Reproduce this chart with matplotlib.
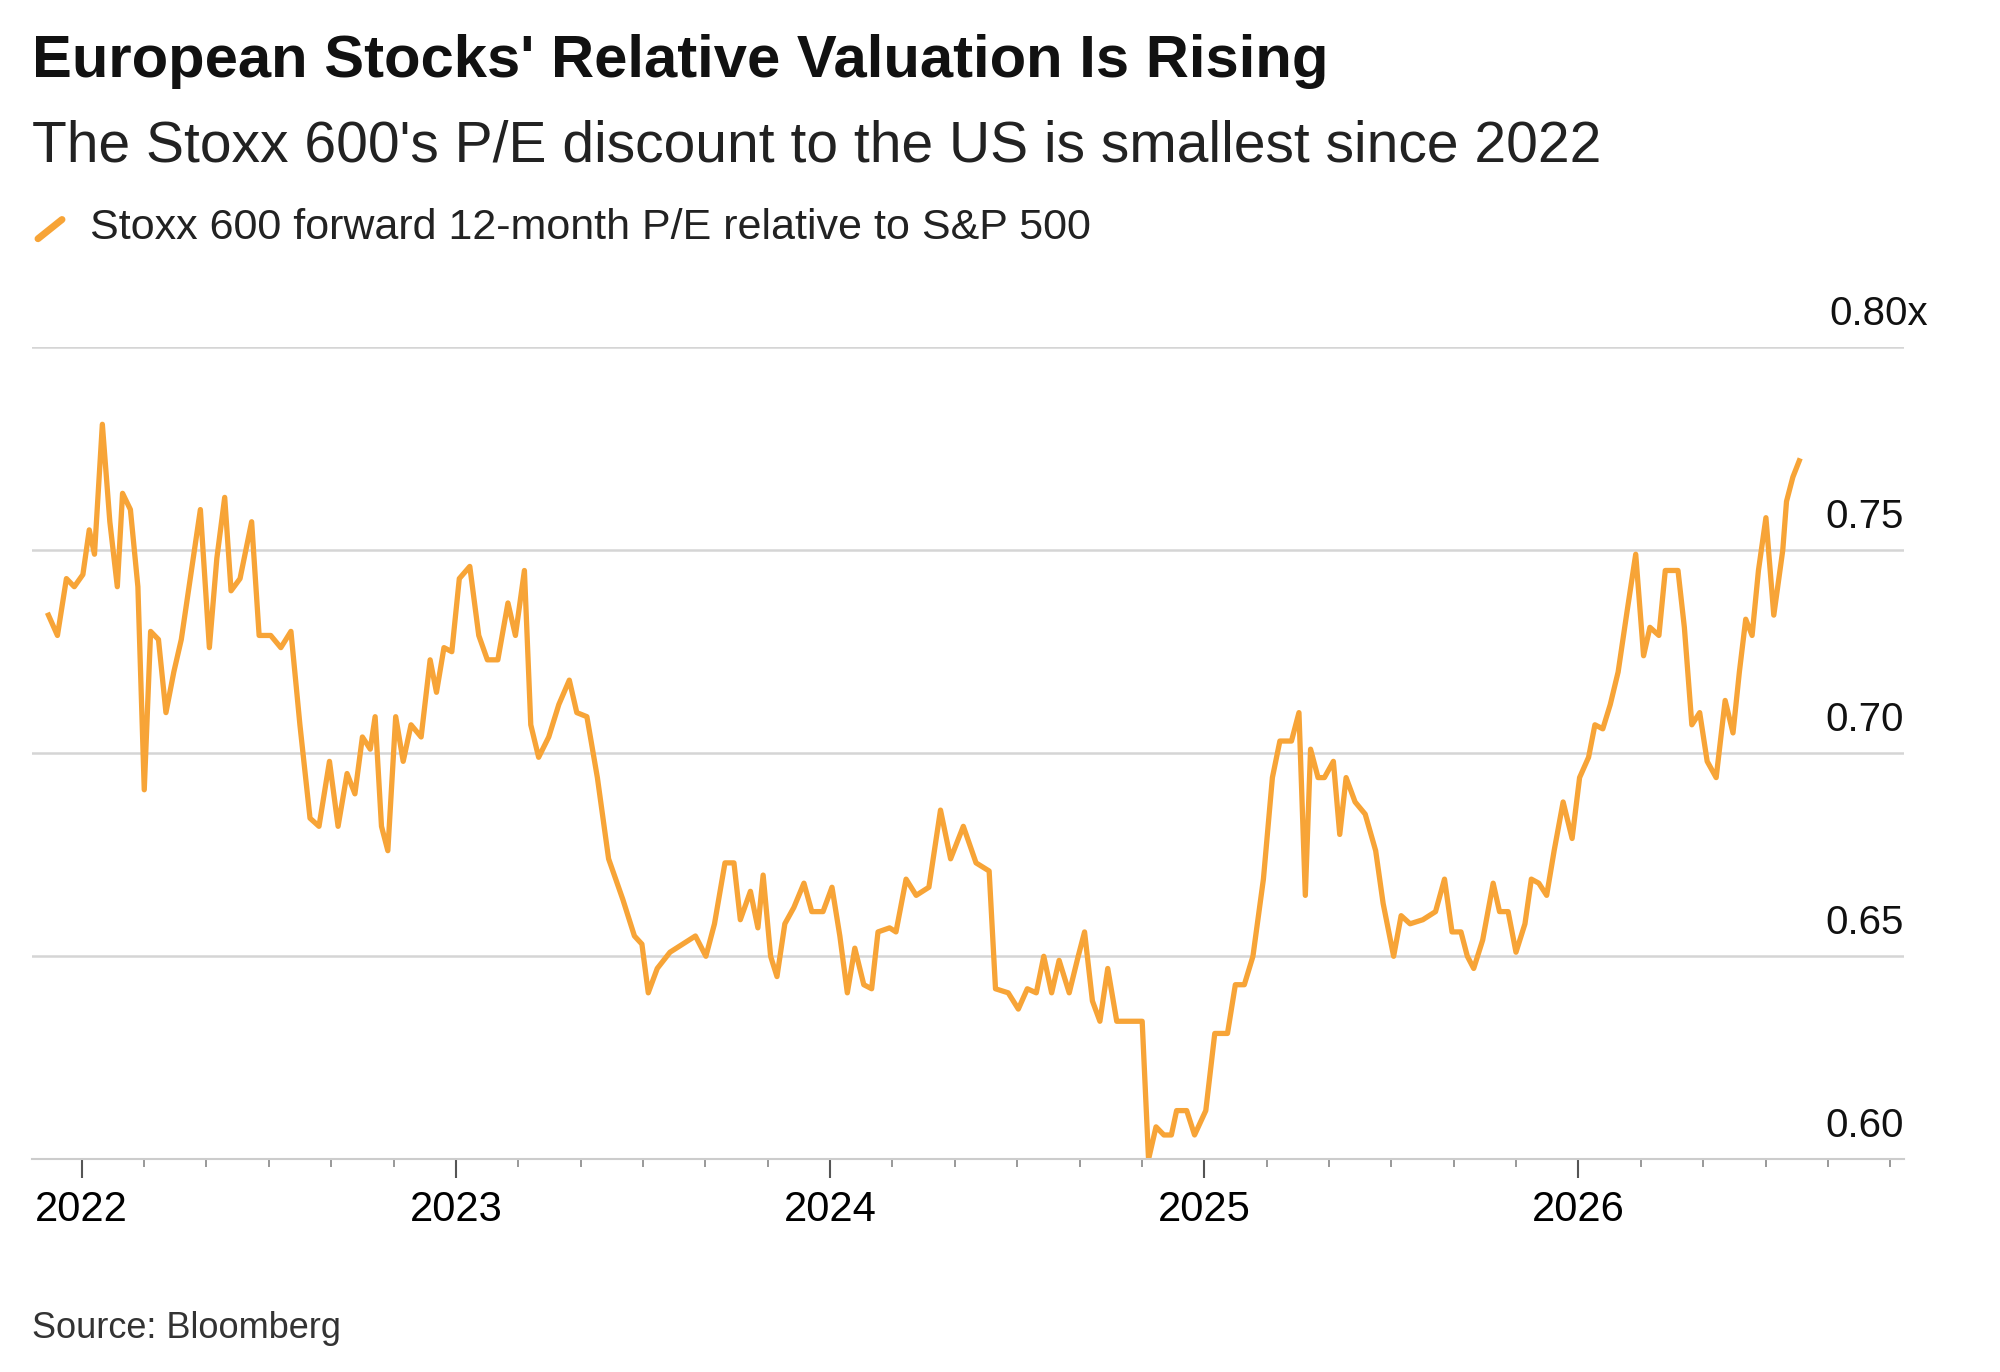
import matplotlib.pyplot as plt
from matplotlib.ticker import FixedLocator

plt.rcParams['font.family'] = ['Liberation Sans', 'DejaVu Sans']

years = [2021.911, 2021.935, 2021.959, 2021.980, 2022.003, 2022.020, 2022.034, 2022.055, 2022.075, 2022.095,
         2022.109, 2022.130, 2022.150, 2022.167, 2022.184, 2022.205, 2022.225, 2022.246, 2022.266, 2022.293,
         2022.317, 2022.341, 2022.361, 2022.382, 2022.399, 2022.423, 2022.454, 2022.474, 2022.505, 2022.532,
         2022.559, 2022.583, 2022.610, 2022.634, 2022.662, 2022.685, 2022.709, 2022.730, 2022.750, 2022.771,
         2022.784, 2022.801, 2022.818, 2022.839, 2022.859, 2022.880, 2022.907, 2022.931, 2022.948, 2022.968,
         2022.989, 2023.009, 2023.037, 2023.061, 2023.084, 2023.112, 2023.139, 2023.159, 2023.183, 2023.200,
         2023.221, 2023.248, 2023.275, 2023.303, 2023.323, 2023.350, 2023.378, 2023.408, 2023.446, 2023.477,
         2023.497, 2023.514, 2023.538, 2023.572, 2023.606, 2023.640, 2023.668, 2023.691, 2023.719, 2023.743,
         2023.760, 2023.787, 2023.807, 2023.821, 2023.841, 2023.858, 2023.879, 2023.903, 2023.930, 2023.951,
         2023.981, 2024.005, 2024.026, 2024.046, 2024.066, 2024.090, 2024.111, 2024.128, 2024.159, 2024.176,
         2024.203, 2024.230, 2024.264, 2024.295, 2024.322, 2024.356, 2024.390, 2024.425, 2024.442, 2024.476,
         2024.503, 2024.527, 2024.551, 2024.571, 2024.592, 2024.612, 2024.639, 2024.663, 2024.680, 2024.701,
         2024.721, 2024.742, 2024.766, 2024.800, 2024.834, 2024.851, 2024.871, 2024.892, 2024.912, 2024.926,
         2024.953, 2024.974, 2025.004, 2025.028, 2025.062, 2025.083, 2025.107, 2025.130, 2025.158, 2025.182,
         2025.202, 2025.233, 2025.253, 2025.270, 2025.284, 2025.304, 2025.321, 2025.345, 2025.362, 2025.379,
         2025.403, 2025.430, 2025.458, 2025.478, 2025.506, 2025.526, 2025.550, 2025.584, 2025.618, 2025.642,
         2025.662, 2025.686, 2025.703, 2025.720, 2025.744, 2025.772, 2025.789, 2025.812, 2025.833, 2025.857,
         2025.874, 2025.894, 2025.915, 2025.935, 2025.959, 2025.983, 2026.003, 2026.027, 2026.044, 2026.065,
         2026.085, 2026.106, 2026.130, 2026.153, 2026.174, 2026.191, 2026.215, 2026.232, 2026.266, 2026.283,
         2026.303, 2026.324, 2026.344, 2026.368, 2026.392, 2026.413, 2026.430, 2026.447, 2026.464, 2026.481,
         2026.501, 2026.522, 2026.546, 2026.556, 2026.573, 2026.590]

pe_ratio = [0.734, 0.729, 0.743, 0.741, 0.744, 0.755, 0.749, 0.781, 0.757, 0.741,
            0.764, 0.760, 0.741, 0.691, 0.730, 0.728, 0.710, 0.720, 0.728, 0.745,
            0.760, 0.726, 0.748, 0.763, 0.740, 0.743, 0.757, 0.729, 0.729, 0.726,
            0.730, 0.707, 0.684, 0.682, 0.698, 0.682, 0.695, 0.690, 0.704, 0.701,
            0.709, 0.682, 0.676, 0.709, 0.698, 0.707, 0.704, 0.723, 0.715, 0.726,
            0.725, 0.743, 0.746, 0.729, 0.723, 0.723, 0.737, 0.729, 0.745, 0.707,
            0.699, 0.704, 0.712, 0.718, 0.710, 0.709, 0.694, 0.674, 0.664, 0.655,
            0.653, 0.641, 0.647, 0.651, 0.653, 0.655, 0.650, 0.658, 0.673, 0.673,
            0.659, 0.666, 0.657, 0.670, 0.650, 0.645, 0.658, 0.662, 0.668, 0.661,
            0.661, 0.667, 0.655, 0.641, 0.652, 0.643, 0.642, 0.656, 0.657, 0.656,
            0.669, 0.665, 0.667, 0.686, 0.674, 0.682, 0.673, 0.671, 0.642, 0.641,
            0.637, 0.642, 0.641, 0.650, 0.641, 0.649, 0.641, 0.650, 0.656, 0.639,
            0.634, 0.647, 0.634, 0.634, 0.634, 0.600, 0.608, 0.606, 0.606, 0.612,
            0.612, 0.606, 0.612, 0.631, 0.631, 0.643, 0.643, 0.650, 0.669, 0.694,
            0.703, 0.703, 0.710, 0.665, 0.701, 0.694, 0.694, 0.698, 0.680, 0.694,
            0.688, 0.685, 0.676, 0.663, 0.650, 0.660, 0.658, 0.659, 0.661, 0.669,
            0.656, 0.656, 0.650, 0.647, 0.654, 0.668, 0.661, 0.661, 0.651, 0.658,
            0.669, 0.668, 0.665, 0.676, 0.688, 0.679, 0.694, 0.699, 0.707, 0.706,
            0.712, 0.720, 0.735, 0.749, 0.724, 0.731, 0.729, 0.745, 0.745, 0.731,
            0.707, 0.710, 0.698, 0.694, 0.713, 0.705, 0.720, 0.733, 0.729, 0.745,
            0.758, 0.734, 0.750, 0.762, 0.768, 0.772]

y_ticks = [0.60, 0.65, 0.70, 0.75, 0.80]
year_ticks = [2022, 2023, 2024, 2025, 2026]
orange = '#F7A437'

fig = plt.figure(figsize=(20, 13.72), dpi=100)
ax = fig.add_axes([0.016, 0.155, 0.936, 0.592])
ax.plot(years, pe_ratio, color=orange, lw=3.8, solid_joinstyle='round')
ax.set_xlim(2021.867, 2026.870)
ax.set_ylim(0.60, 0.80)

for s in ['top', 'left', 'right']:
    ax.spines[s].set_visible(False)
ax.spines['bottom'].set_color('#cccccc')
ax.spines['bottom'].set_linewidth(1.5)

for v in y_ticks[1:]:
    ax.axhline(v, color='#d5d5d5', lw=1.8, zorder=0)
ax.set_yticks([])
for v in y_ticks:
    lab = f'{v:.2f}x' if v == 0.80 else f'{v:.2f}'
    ax.text(1.0 if v != 0.80 else 1.013, v + 0.0035, lab, transform=ax.get_yaxis_transform(),
            ha='right', va='bottom', fontsize=29, color='#111111')

ax.xaxis.set_major_locator(FixedLocator(year_ticks))
ax.xaxis.set_minor_locator(FixedLocator([y + m / 12 for y in range(2021, 2027) for m in range(2, 12, 2)]))
ax.set_xticklabels([str(y) for y in year_ticks], fontsize=30)
ax.tick_params(axis='x', which='major', length=14, width=1.5, color='#555555', pad=8)
ax.tick_params(axis='x', which='minor', length=6, width=1.2, color='#888888')

fig.text(0.016, 0.955, "European Stocks' Relative Valuation Is Rising", fontsize=43,
         fontweight='bold', va='center', color='#111111')
fig.text(0.016, 0.893, "The Stoxx 600's P/E discount to the US is smallest since 2022", fontsize=41,
         va='center', color='#222222')
fig.lines.append(plt.Line2D([0.019, 0.031], [0.826, 0.840], transform=fig.transFigure,
                            color=orange, lw=5, solid_capstyle='round'))
fig.text(0.045, 0.834, 'Stoxx 600 forward 12-month P/E relative to S&P 500', fontsize=31,
         va='center', color='#222222')
fig.text(0.016, 0.032, 'Source: Bloomberg', fontsize=26, va='center', color='#333333')

fig.savefig('out.png', dpi=100, facecolor='white')
